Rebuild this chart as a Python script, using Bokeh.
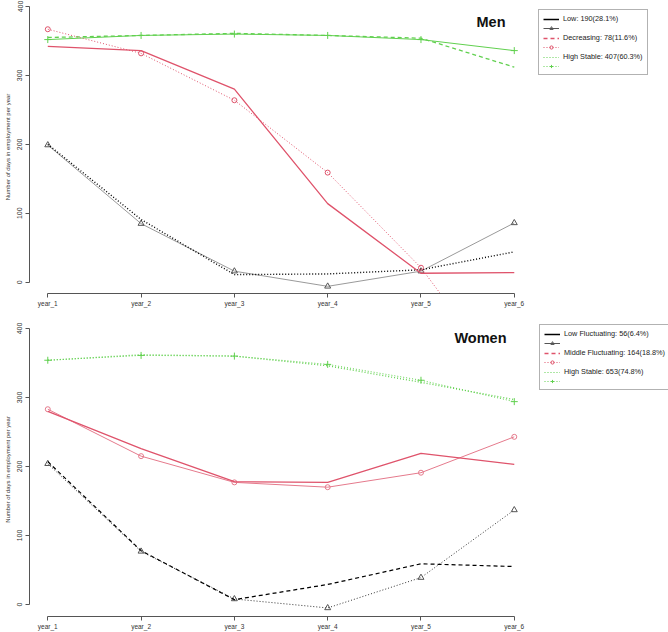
from bokeh.plotting import figure
from bokeh.models import Range1d, FixedTicker, Legend, LegendItem, Label, ColumnDataSource
from bokeh.layouts import column
from bokeh.embed import file_html
from bokeh.resources import INLINE

# ---------------- data ----------------
years = ["year_1", "year_2", "year_3", "year_4", "year_5", "year_6"]
year_idx = [1, 2, 3, 4, 5, 6]
y_ticks = [0, 100, 200, 300, 400]

# Men
men_low_obs = [199, 85, 16, -6, 16, 86]
men_low_pred = [200, 91, 11, 12, 18, 44]
men_dec_obs = [367, 332, 264, 159, 21, -160]
men_dec_pred = [342, 336, 280, 114, 13, 14]
men_high_obs = [352, 358, 360, 358, 352, 336]
men_high_pred = [355, 358, 361, 358, 354, 312]
men_labels = ["Low: 190(28.1%)", "Decreasing: 78(11.6%)", "High Stable: 407(60.3%)"]

# Women
wom_low_obs = [204, 77, 8, -5, 39, 137]
wom_low_pred = [207, 78, 7, 29, 59, 55]
wom_mid_obs = [283, 215, 177, 170, 191, 243]
wom_mid_pred = [280, 226, 178, 177, 219, 203]
wom_high_obs = [354, 361, 360, 348, 325, 294]
wom_high_pred = [354, 362, 360, 346, 322, 297]
wom_labels = ["Low Fluctuating: 56(6.4%)", "Middle Fluctuating: 164(18.8%)", "High Stable: 653(74.8%)"]

RED = "#DF536B"
PINK = "#E57A8C"
GREEN = "#61D04F"
FONT = "Liberation Sans"
NAN = float("nan")


def make_fig(height, ystart, bottom_border):
    p = figure(width=668, height=height,
               x_range=Range1d(0.804, 7.653), y_range=Range1d(ystart, 408.7),
               output_backend="svg", toolbar_location=None,
               min_border_left=29, min_border_right=0, min_border_top=0,
               min_border_bottom=bottom_border)
    p.outline_line_color = None
    p.grid.visible = False
    p.background_fill_color = "white"
    p.border_fill_color = "white"

    xa = p.xaxis[0]
    xa.ticker = FixedTicker(ticks=year_idx)
    xa.major_label_overrides = {i: s for i, s in zip(year_idx, years)}
    xa.bounds = (1, 6)
    xa.axis_line_color = "#555555"
    xa.major_tick_line_color = "#555555"
    xa.major_tick_out = 4
    xa.major_tick_in = 0
    xa.minor_tick_line_color = None
    xa.major_label_standoff = 2
    xa.major_label_text_font = FONT
    xa.major_label_text_font_size = "6.5px"
    xa.major_label_text_color = "#333333"

    ya = p.yaxis[0]
    ya.ticker = FixedTicker(ticks=y_ticks)
    ya.bounds = (0, 400)
    ya.axis_line_color = "#555555"
    ya.major_tick_line_color = "#555555"
    ya.major_tick_out = 4
    ya.major_tick_in = 0
    ya.minor_tick_line_color = None
    ya.major_label_orientation = "vertical"
    ya.major_label_standoff = 3
    ya.major_label_text_font = FONT
    ya.major_label_text_font_size = "7px"
    ya.major_label_text_color = "#333333"
    ya.axis_label = "Number of days in employment per year"
    ya.axis_label_text_font = FONT
    ya.axis_label_text_font_size = "6px"
    ya.axis_label_text_font_style = "normal"
    ya.axis_label_text_color = "#333333"
    ya.axis_label_standoff = 4
    return p


def series(p, vals, color, width, dash, marker=None, msize=6, mcolor=None):
    src = ColumnDataSource(dict(x=year_idx, y=vals))
    p.line("x", "y", source=src, line_color=color, line_width=width, line_dash=dash)
    if marker:
        p.scatter("x", "y", source=src, marker=marker, size=msize,
                  line_color=mcolor or color, fill_color=None, line_width=1)


def legend_items(p, labels, styles):
    items = []
    for lab, st in zip(labels, styles):
        (lc, lw, ld), (oc, ow, od, mk, mc, ms) = st
        r1 = p.line("x", "y", source=ColumnDataSource(dict(x=[NAN], y=[NAN])),
                    line_color=lc, line_width=lw, line_dash=ld)
        items.append(LegendItem(label=lab, renderers=[r1]))
        src = ColumnDataSource(dict(x=[NAN], y=[NAN]))
        r2 = p.line("x", "y", source=src, line_color=oc, line_width=ow, line_dash=od)
        r3 = p.scatter("x", "y", source=src, marker=mk, size=ms, line_color=mc, fill_color=None)
        items.append(LegendItem(label=" ", renderers=[r2, r3]))
    return items


def add_legend(p, items, loc):
    lg = Legend(items=items, location=loc, margin=0, padding=4, spacing=1,
                glyph_width=16, glyph_height=8, label_height=8, label_standoff=4,
                label_text_font=FONT, label_text_font_size="7.3px", label_text_color="#222222",
                border_line_color="#666666", border_line_width=1,
                background_fill_color="white", background_fill_alpha=1)
    p.add_layout(lg, "center")


# ---------------- Men ----------------
p1 = make_fig(322, -16.4, 29)
series(p1, men_high_obs, GREEN, 1, "solid", "cross", 7)
series(p1, men_high_pred, GREEN, 1.3, "4 3")
series(p1, men_low_obs, "#9a9a9a", 1, "solid", "triangle", 6, "#555555")
series(p1, men_low_pred, "black", 1.4, "1 2")
series(p1, men_dec_obs, RED, 1, "1 2", "circle", 5)
series(p1, men_dec_pred, RED, 1.3, "solid")

leg_styles = [
    (("black", 1.5, "solid"), ("#555555", 1, "solid", "triangle", "#555555", 5)),
    ((RED, 1.5, "4 3"), (RED, 1, "1 2", "circle", RED, 5)),
    ((GREEN, 1.2, "1 2"), (GREEN, 1, "1 2", "cross", GREEN, 6)),
]
add_legend(p1, legend_items(p1, men_labels, leg_styles), (509, 218))
p1.add_layout(Label(x=476, y=271.5, x_units="screen", y_units="screen", text="Men",
                    text_align="right", text_baseline="middle", text_font=FONT,
                    text_font_size="14.5px", text_font_style="bold", text_color="#111111"))

# ---------------- Women ----------------
p2 = make_fig(310, -17.4, 16)
series(p2, wom_high_obs, GREEN, 1, "1 2", "cross", 7)
series(p2, wom_high_pred, GREEN, 1.3, "1 2")
series(p2, wom_low_obs, "#333333", 1, "1 2", "triangle", 6, "#555555")
series(p2, wom_low_pred, "black", 1.2, "4 3")
series(p2, wom_mid_obs, PINK, 1, "solid", "circle", 5)
series(p2, wom_mid_pred, RED, 1.3, "solid")

add_legend(p2, legend_items(p2, wom_labels, leg_styles), (510, 226))
p2.add_layout(Label(x=477, y=279, x_units="screen", y_units="screen", text="Women",
                    text_align="right", text_baseline="middle", text_font=FONT,
                    text_font_size="14.5px", text_font_style="bold", text_color="#111111"))

layout = column(p1, p2, spacing=0)
open("out.html", "w").write(file_html(layout, INLINE))
